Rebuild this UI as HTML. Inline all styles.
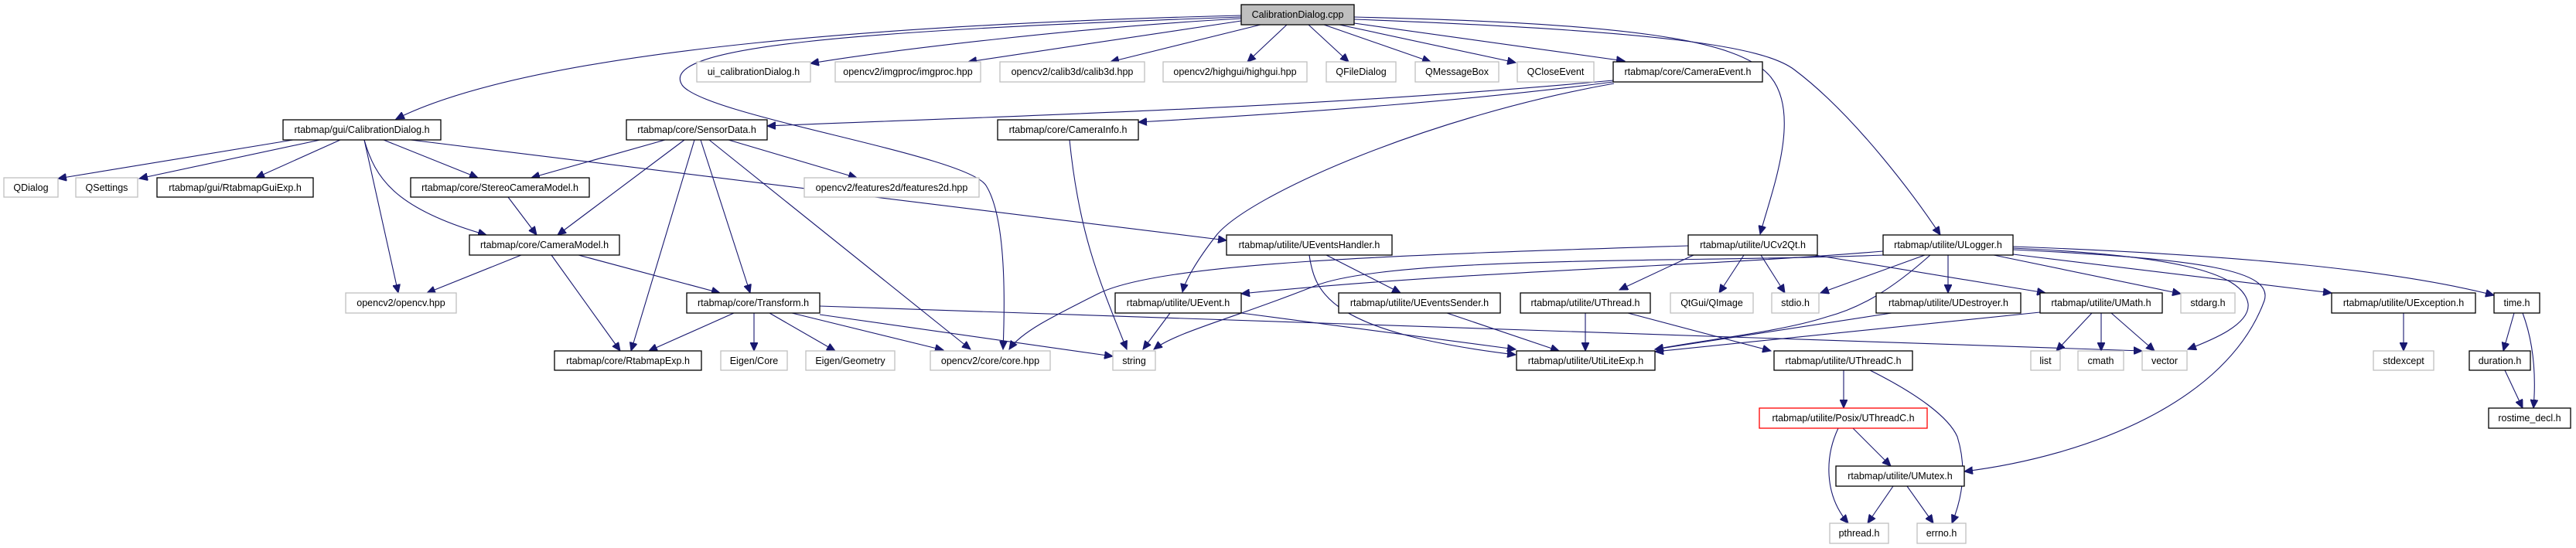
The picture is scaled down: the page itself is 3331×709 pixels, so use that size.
<!DOCTYPE html>
<html><head><meta charset="utf-8"><style>
html,body{margin:0;padding:0;background:#fff;}
svg{display:block;}
text{font-family:"Liberation Sans",Helvetica,sans-serif;font-size:12.5px;fill:#000;}
.b{fill:#fff;stroke:#000;stroke-width:1.3;}
.g{fill:#fff;stroke:#bfbfbf;stroke-width:1.3;}
.e{fill:none;stroke:#191970;stroke-width:1.1;}
</style></head><body>
<svg width="3331" height="709" viewBox="0 0 3331 709" xmlns="http://www.w3.org/2000/svg">
<defs><marker id="a" markerWidth="12" markerHeight="10" refX="11" refY="5" orient="auto" markerUnits="userSpaceOnUse"><path d="M0,0 L11,5 L0,10 z" fill="#191970" stroke="#191970"/></marker></defs>
<g marker-end="url(#a)" class="e">
<path class="e" d="M1605,20 C1200,30 700,60 512,154"/>
<path class="e" d="M1605,24 C1400,35 1150,65 1048,82"/>
<path class="e" d="M1605,27 L1252,80"/>
<path class="e" d="M1630,32 L1436,80"/>
<path class="e" d="M1664,32 L1613,80"/>
<path class="e" d="M1692,32 L1744,80"/>
<path class="e" d="M1712,32 L1850,80"/>
<path class="e" d="M1732,32 L1960,81"/>
<path class="e" d="M1751,30 L2101,79"/>
<path class="e" d="M1605,22 C1100,40 850,60 882,110 C910,150 1250,200 1275,240 C1300,280 1300,380 1297,452"/>
<path class="e" d="M1751,22 C2100,30 2250,50 2290,100 C2330,150 2290,250 2276,303"/>
<path class="e" d="M1751,25 C2150,40 2280,60 2320,90 C2400,150 2480,260 2509,304"/>
<path class="e" d="M379,181 L75,231"/>
<path class="e" d="M414,181 L180,231"/>
<path class="e" d="M440,181 L331,230"/>
<path class="e" d="M496,181 L618,230"/>
<path class="e" d="M471,181 C485,230 510,270 629,304"/>
<path class="e" d="M471,181 L515,379"/>
<path class="e" d="M531,181 L1586,311"/>
<path class="e" d="M860,181 L687,230"/>
<path class="e" d="M885,181 L721,304"/>
<path class="e" d="M898,181 L816,454"/>
<path class="e" d="M906,181 L970,379"/>
<path class="e" d="M917,181 L1255,452"/>
<path class="e" d="M942,181 L1108,230"/>
<path class="e" d="M2086,104 C1700,140 1300,150 992,163"/>
<path class="e" d="M2086,106 C1900,130 1700,145 1472,158"/>
<path class="e" d="M2087,108 C1850,150 1620,250 1574,303 C1545,340 1532,365 1529,378"/>
<path class="e" d="M1383,181 C1395,300 1420,360 1457,452"/>
<path class="e" d="M657,255 L694,304"/>
<path class="e" d="M674,330 L552,379"/>
<path class="e" d="M713,330 L802,454"/>
<path class="e" d="M748,330 L931,379"/>
<path class="e" d="M949,405 L839,454"/>
<path class="e" d="M975,405 L975,454"/>
<path class="e" d="M995,405 L1080,454"/>
<path class="e" d="M1024,405 L1220,453"/>
<path class="e" d="M1060,407 L1439,461"/>
<path class="e" d="M1060,396 L2770,454"/>
<path class="e" d="M1715,330 L1811,379"/>
<path class="e" d="M1693,330 C1700,380 1720,430 1960,459"/>
<path class="e" d="M2183,318 C1800,330 1500,340 1420,380 C1360,410 1320,430 1305,452"/>
<path class="e" d="M2255,330 L2223,379"/>
<path class="e" d="M2277,330 L2308,379"/>
<path class="e" d="M2190,330 L2094,375"/>
<path class="e" d="M2347,330 L2645,379"/>
<path class="e" d="M2435,325 C2200,345 1900,350 1605,380"/>
<path class="e" d="M2435,330 C2200,340 1800,330 1700,370 C1600,410 1520,430 1492,452"/>
<path class="e" d="M2496,330 C2440,380 2400,400 2362,410 C2300,430 2200,440 2140,452"/>
<path class="e" d="M2489,330 L2354,379"/>
<path class="e" d="M2519,330 L2519,379"/>
<path class="e" d="M2578,330 L2820,380"/>
<path class="e" d="M2603,329 L3015,379"/>
<path class="e" d="M2603,319 C2900,330 3100,350 3225,382"/>
<path class="e" d="M2603,321 C2800,330 2900,350 2907,393 C2910,420 2860,440 2829,452"/>
<path class="e" d="M2603,323 C2850,335 2940,350 2928,389 C2880,520 2700,590 2540,610"/>
<path class="e" d="M1513,405 L1478,452"/>
<path class="e" d="M1605,405 L1960,452"/>
<path class="e" d="M1871,405 L2016,454"/>
<path class="e" d="M2050,405 L2050,454"/>
<path class="e" d="M2105,405 L2290,454"/>
<path class="e" d="M2446,405 L2140,452"/>
<path class="e" d="M2638,404 L2140,455"/>
<path class="e" d="M2705,405 L2659,454"/>
<path class="e" d="M2717,405 L2717,454"/>
<path class="e" d="M2730,405 L2786,454"/>
<path class="e" d="M3108,405 L3108,454"/>
<path class="e" d="M3251,405 L3237,454"/>
<path class="e" d="M3262,405 C3275,440 3280,480 3276,528"/>
<path class="e" d="M3239,479 L3262,528"/>
<path class="e" d="M2384,479 L2384,528"/>
<path class="e" d="M2418,479 C2480,510 2520,540 2531,565 C2545,610 2535,650 2524,677"/>
<path class="e" d="M2377,554 C2360,590 2358,640 2390,677"/>
<path class="e" d="M2396,554 L2445,603"/>
<path class="e" d="M2448,629 L2415,677"/>
<path class="e" d="M2466,629 L2500,677"/>
</g>
<g>
<rect x="1605" y="6" width="146" height="26" fill="#bfbfbf" stroke="#000" stroke-width="1.3"/>
<text x="1678" y="23" text-anchor="middle">CalibrationDialog.cpp</text>
<rect class="g" x="901" y="80" width="147" height="26"/><text x="974.5" y="97" text-anchor="middle">ui_calibrationDialog.h</text>
<rect class="g" x="1080" y="80" width="188" height="26"/><text x="1174" y="97" text-anchor="middle">opencv2/imgproc/imgproc.hpp</text>
<rect class="g" x="1293" y="80" width="187" height="26"/><text x="1386.5" y="97" text-anchor="middle">opencv2/calib3d/calib3d.hpp</text>
<rect class="g" x="1504" y="80" width="186" height="26"/><text x="1597" y="97" text-anchor="middle">opencv2/highgui/highgui.hpp</text>
<rect class="g" x="1715" y="80" width="90" height="26"/><text x="1760" y="97" text-anchor="middle">QFileDialog</text>
<rect class="g" x="1830" y="80" width="108" height="26"/><text x="1884" y="97" text-anchor="middle">QMessageBox</text>
<rect class="g" x="1962" y="80" width="99" height="26"/><text x="2011.5" y="97" text-anchor="middle">QCloseEvent</text>
<rect class="b" x="2086" y="80" width="193" height="26"/><text x="2182.5" y="97" text-anchor="middle">rtabmap/core/CameraEvent.h</text>
<rect class="b" x="366" y="155" width="204" height="26"/><text x="468" y="172" text-anchor="middle">rtabmap/gui/CalibrationDialog.h</text>
<rect class="b" x="810" y="155" width="182" height="26"/><text x="901" y="172" text-anchor="middle">rtabmap/core/SensorData.h</text>
<rect class="b" x="1290" y="155" width="182" height="26"/><text x="1381" y="172" text-anchor="middle">rtabmap/core/CameraInfo.h</text>
<rect class="g" x="5" y="230" width="70" height="25"/><text x="40" y="247" text-anchor="middle">QDialog</text>
<rect class="g" x="98" y="230" width="80" height="25"/><text x="138" y="247" text-anchor="middle">QSettings</text>
<rect class="b" x="203" y="230" width="202" height="25"/><text x="304" y="247" text-anchor="middle">rtabmap/gui/RtabmapGuiExp.h</text>
<rect class="b" x="531" y="230" width="231" height="25"/><text x="646.5" y="247" text-anchor="middle">rtabmap/core/StereoCameraModel.h</text>
<rect class="g" x="1040" y="230" width="226" height="25"/><text x="1153" y="247" text-anchor="middle">opencv2/features2d/features2d.hpp</text>
<rect class="b" x="607" y="304" width="194" height="26"/><text x="704" y="321" text-anchor="middle">rtabmap/core/CameraModel.h</text>
<rect class="b" x="1586" y="304" width="214" height="26"/><text x="1693" y="321" text-anchor="middle">rtabmap/utilite/UEventsHandler.h</text>
<rect class="b" x="2183" y="304" width="167" height="26"/><text x="2266.5" y="321" text-anchor="middle">rtabmap/utilite/UCv2Qt.h</text>
<rect class="b" x="2435" y="304" width="168" height="26"/><text x="2519" y="321" text-anchor="middle">rtabmap/utilite/ULogger.h</text>
<rect class="g" x="447" y="379" width="143" height="26"/><text x="518.5" y="396" text-anchor="middle">opencv2/opencv.hpp</text>
<rect class="b" x="888" y="379" width="172" height="26"/><text x="974" y="396" text-anchor="middle">rtabmap/core/Transform.h</text>
<rect class="b" x="1442" y="379" width="163" height="26"/><text x="1523.5" y="396" text-anchor="middle">rtabmap/utilite/UEvent.h</text>
<rect class="b" x="1731" y="379" width="209" height="26"/><text x="1835.5" y="396" text-anchor="middle">rtabmap/utilite/UEventsSender.h</text>
<rect class="b" x="1966" y="379" width="168" height="26"/><text x="2050" y="396" text-anchor="middle">rtabmap/utilite/UThread.h</text>
<rect class="g" x="2160" y="379" width="107" height="26"/><text x="2213.5" y="396" text-anchor="middle">QtGui/QImage</text>
<rect class="g" x="2291" y="379" width="61" height="26"/><text x="2321.5" y="396" text-anchor="middle">stdio.h</text>
<rect class="b" x="2426" y="379" width="187" height="26"/><text x="2519.5" y="396" text-anchor="middle">rtabmap/utilite/UDestroyer.h</text>
<rect class="b" x="2638" y="379" width="158" height="26"/><text x="2717" y="396" text-anchor="middle">rtabmap/utilite/UMath.h</text>
<rect class="g" x="2820" y="379" width="70" height="26"/><text x="2855" y="396" text-anchor="middle">stdarg.h</text>
<rect class="b" x="3015" y="379" width="186" height="26"/><text x="3108" y="396" text-anchor="middle">rtabmap/utilite/UException.h</text>
<rect class="b" x="3225" y="379" width="59" height="26"/><text x="3254.5" y="396" text-anchor="middle">time.h</text>
<rect class="b" x="717" y="454" width="190" height="25"/><text x="812" y="471" text-anchor="middle">rtabmap/core/RtabmapExp.h</text>
<rect class="g" x="932" y="454" width="86" height="25"/><text x="975" y="471" text-anchor="middle">Eigen/Core</text>
<rect class="g" x="1042" y="454" width="115" height="25"/><text x="1099.5" y="471" text-anchor="middle">Eigen/Geometry</text>
<rect class="g" x="1203" y="454" width="155" height="25"/><text x="1280.5" y="471" text-anchor="middle">opencv2/core/core.hpp</text>
<rect class="g" x="1439" y="454" width="55" height="25"/><text x="1466.5" y="471" text-anchor="middle">string</text>
<rect class="b" x="1961" y="454" width="179" height="25"/><text x="2050.5" y="471" text-anchor="middle">rtabmap/utilite/UtiLiteExp.h</text>
<rect class="b" x="2294" y="454" width="179" height="25"/><text x="2383.5" y="471" text-anchor="middle">rtabmap/utilite/UThreadC.h</text>
<rect class="g" x="2626" y="454" width="38" height="25"/><text x="2645" y="471" text-anchor="middle">list</text>
<rect class="g" x="2687" y="454" width="59" height="25"/><text x="2716.5" y="471" text-anchor="middle">cmath</text>
<rect class="g" x="2770" y="454" width="58" height="25"/><text x="2799" y="471" text-anchor="middle">vector</text>
<rect class="g" x="3069" y="454" width="78" height="25"/><text x="3108" y="471" text-anchor="middle">stdexcept</text>
<rect class="b" x="3193" y="454" width="79" height="25"/><text x="3232.5" y="471" text-anchor="middle">duration.h</text>
<rect x="2275" y="528" width="217" height="26" fill="#fff" stroke="#ff0000" stroke-width="1.3"/><text x="2383.5" y="545" text-anchor="middle">rtabmap/utilite/Posix/UThreadC.h</text>
<rect class="b" x="3218" y="528" width="106" height="26"/><text x="3271" y="545" text-anchor="middle">rostime_decl.h</text>
<rect class="b" x="2374" y="603" width="166" height="26"/><text x="2457" y="620" text-anchor="middle">rtabmap/utilite/UMutex.h</text>
<rect class="g" x="2366" y="677" width="76" height="26"/><text x="2404" y="694" text-anchor="middle">pthread.h</text>
<rect class="g" x="2479" y="677" width="63" height="26"/><text x="2510.5" y="694" text-anchor="middle">errno.h</text>
</g>
</svg>
</body></html>
